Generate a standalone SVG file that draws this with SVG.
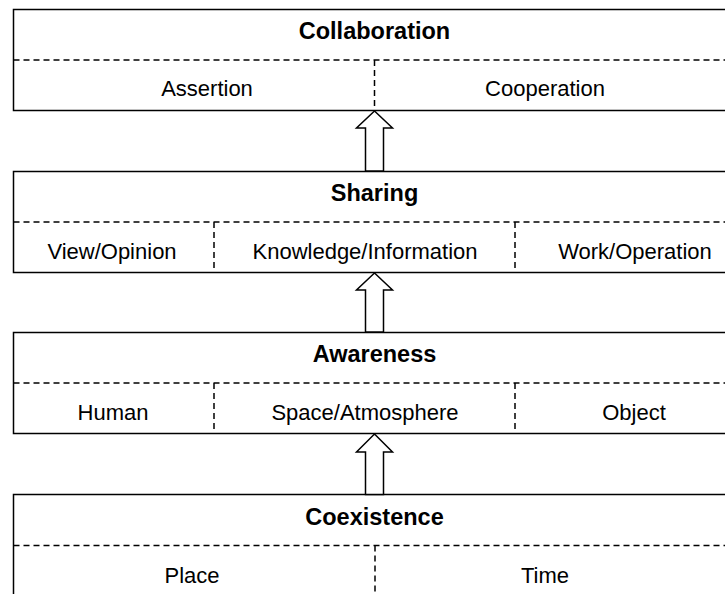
<svg xmlns="http://www.w3.org/2000/svg" width="725" height="594" viewBox="0 0 725 594">
<style>
.box{fill:#fff;stroke:#000;stroke-width:1.5}
.dash{fill:none;stroke:#000;stroke-width:1.5;stroke-dasharray:6 4}
.arrow{fill:#fff;stroke:#000;stroke-width:1.5;stroke-linejoin:miter}
.t{font-family:"Liberation Sans",Arial,sans-serif;font-size:23.5px;font-weight:bold;text-anchor:middle;fill:#000}
.s{font-family:"Liberation Sans",Arial,sans-serif;font-size:22px;text-anchor:middle;fill:#000}
</style>
<rect width="725" height="594" fill="#fff"/>
<g id="collaboration">
<rect class="box" x="13.5" y="9.5" width="722" height="101"/>
<path class="dash" d="M13.5 60H735.5M374.5 60V110.5"/>
<text class="t" x="374.5" y="39">Collaboration</text>
<text class="s" x="207" y="96">Assertion</text>
<text class="s" x="545" y="96">Cooperation</text>
</g>
<g id="sharing">
<rect class="box" x="13.5" y="171.5" width="722" height="101"/>
<path class="dash" d="M13.5 222H735.5M214 222V272.5M515 222V272.5"/>
<text class="t" x="374.5" y="201">Sharing</text>
<text class="s" x="112" y="259">View/Opinion</text>
<text class="s" x="365" y="259">Knowledge/Information</text>
<text class="s" x="635" y="259">Work/Operation</text>
</g>
<g id="awareness">
<rect class="box" x="13.5" y="332.5" width="722" height="101"/>
<path class="dash" d="M13.5 383H735.5M214 383V433.5M515 383V433.5"/>
<text class="t" x="374.5" y="362">Awareness</text>
<text class="s" x="113" y="420">Human</text>
<text class="s" x="365" y="420">Space/Atmosphere</text>
<text class="s" x="634" y="420">Object</text>
</g>
<g id="coexistence">
<rect class="box" x="13.5" y="494.5" width="722" height="120"/>
<path class="dash" d="M13.5 545.5H735.5M375 545.5V600"/>
<text class="t" x="374.5" y="525">Coexistence</text>
<text class="s" x="192" y="583">Place</text>
<text class="s" x="545" y="583">Time</text>
</g>
<g id="connectors">
<polygon class="arrow" points="374.5,111 392.5,128 383.5,128 383.5,171 365.5,171 365.5,128 356.5,128"/>
<polygon class="arrow" points="374.5,273 392.5,290 383.5,290 383.5,332 365.5,332 365.5,290 356.5,290"/>
<polygon class="arrow" points="374.5,434 392.5,452 383.5,452 383.5,494.5 365.5,494.5 365.5,452 356.5,452"/>
</g>
</svg>
